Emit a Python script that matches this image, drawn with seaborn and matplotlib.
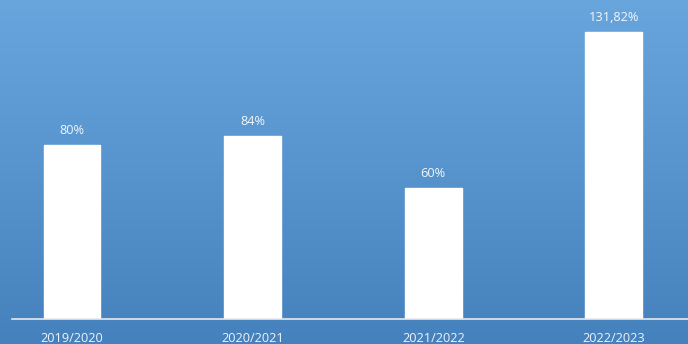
import numpy as np
import pandas as pd
import matplotlib
matplotlib.use("Agg")
import matplotlib.pyplot as plt
import seaborn as sns
from matplotlib.colors import LinearSegmentedColormap

# Data
seasons = ["2019/2020", "2020/2021", "2021/2022", "2022/2023"]
rates = [80, 84, 60, 131.82]
rate_labels = ["80%", "84%", "60%", "131,82%"]

df = pd.DataFrame({"season": seasons, "rate": rates})

sns.set_style("white")
plt.rcParams["font.family"] = ["Open Sans", "DejaVu Sans"]

fig = plt.figure(figsize=(6.88, 3.44), dpi=100)

# Gradient background across the whole figure
bg = fig.add_axes([0, 0, 1, 1], zorder=0)
cmap = LinearSegmentedColormap.from_list("bg", ["#4582bd", "#69a5dd"])
grad = np.linspace(0, 1, 256).reshape(-1, 1)
bg.imshow(grad, aspect="auto", cmap=cmap, origin="lower", extent=[0, 1, 0, 1])
bg.set_axis_off()

ax = fig.add_axes([12 / 688, 25 / 344, 676 / 688, 319 / 344], zorder=1)
ax.patch.set_alpha(0)

sns.barplot(data=df, x="season", y="rate", color="white", width=0.315,
            saturation=1, ax=ax)

ax.bar_label(ax.containers[0], labels=rate_labels, padding=6,
             color="#f2f5f9", fontsize=9.2)

ax.set_xlim(-0.332, 3.41)
ax.set_ylim(0, 146.6)
ax.set_xlabel("")
ax.set_ylabel("")
ax.set_yticks([])
ax.tick_params(axis="x", length=0, pad=9.5, labelsize=9.2, labelcolor="#eef2f7")

for side in ["top", "left", "right"]:
    ax.spines[side].set_visible(False)
ax.spines["bottom"].set_color("#e6e9ee")
ax.spines["bottom"].set_linewidth(1.2)

fig.savefig("out.png", dpi=100)
